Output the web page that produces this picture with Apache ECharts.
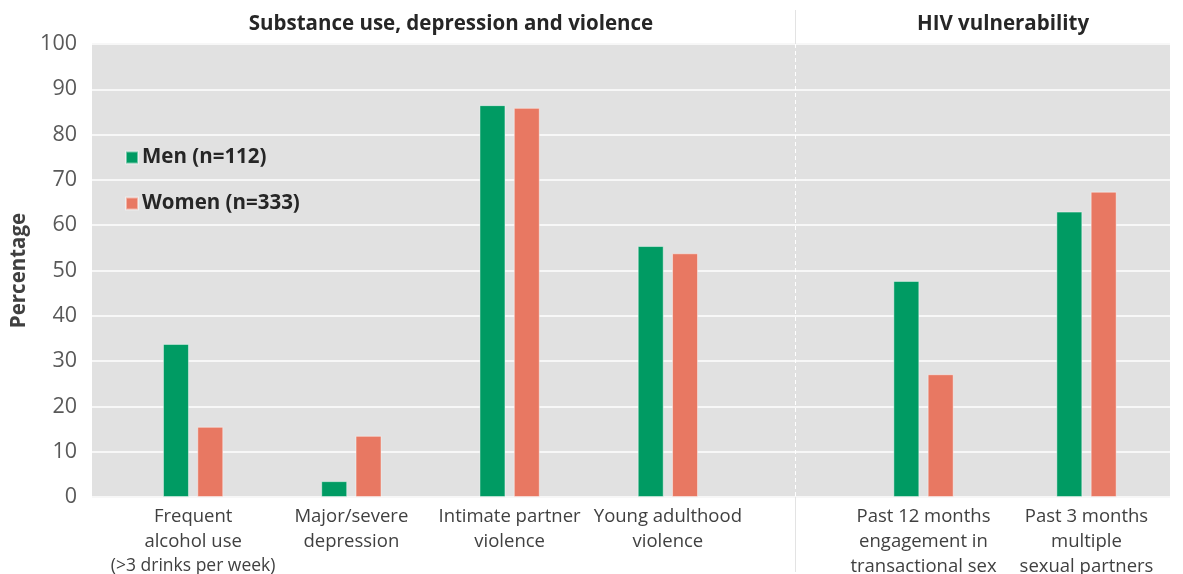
<!DOCTYPE html>
<html>
<head>
<meta charset="utf-8">
<script src="https://cdn.jsdelivr.net/npm/echarts@6/dist/echarts.min.js"></script>
<style>html,body{margin:0;padding:0;background:#fff}#c{width:1183px;height:574px}</style>
</head>
<body>
<div id="c"></div>
<script>
const leftCategories = ['Frequent\nalcohol use\n(>3 drinks per week)', 'Major/severe\ndepression', 'Intimate partner\nviolence', 'Young adulthood\nviolence'];
const rightCategories = ['Past 12 months\nengagement in\ntransactional sex', 'Past 3 months\nmultiple\nsexual partners'];
const menLeft = [33.8, 3.5, 86.5, 55.4];
const womenLeft = [15.5, 13.5, 85.9, 53.8];
const menRight = [47.7, 63.0];
const womenRight = [27.1, 67.4];
const groupTitles = ['Substance use, depression and violence', 'HIV vulnerability'];
const seriesNames = ['Men (n=112)', 'Women (n=333)'];
const yTicks = [0, 10, 20, 30, 40, 50, 60, 70, 80, 90, 100];

const FONT = '"Open Sans", "Noto Sans", sans-serif';
const GREEN = '#009b63';
const SALMON = '#e87862';
const TOP = 44, BOTTOM = 77;

const chart = echarts.init(document.getElementById('c'));

function labelFmt(v) {
  const lines = v.split('\n');
  return lines.map(l => l.startsWith('(') ? '{s|' + l + '}' : '{a|' + l + '}').join('\n');
}
const axisLabel = {
  interval: 0, margin: 7, color: '#404040', fontFamily: FONT,
  formatter: labelFmt,
  rich: {
    a: {fontSize: 18.5, lineHeight: 25, color: '#404040', fontFamily: FONT},
    s: {fontSize: 17.5, lineHeight: 25, color: '#404040', fontFamily: FONT}
  }
};
const hiddenY = (gi) => ({type: 'value', gridIndex: gi, min: 0, max: 100, interval: 10, show: false, splitLine: {show: false}});
const barStyle = (c) => ({color: c, borderColor: 'rgba(255,255,255,0.45)', borderWidth: 1});

chart.setOption({
  animation: false,
  textStyle: {fontFamily: FONT},
  grid: [
    {left: 92, right: 13, top: TOP, bottom: BOTTOM, show: true, backgroundColor: '#e1e1e1', borderWidth: 0, outerBoundsMode: 'none', containLabel: false},
    {left: 114, width: 633, top: TOP, bottom: BOTTOM, outerBoundsMode: 'none', containLabel: false},
    {left: 842, width: 326, top: TOP, bottom: BOTTOM, outerBoundsMode: 'none', containLabel: false}
  ],
  xAxis: [
    {type: 'category', gridIndex: 0, data: [''], show: false},
    {type: 'category', gridIndex: 1, data: leftCategories, axisLine: {show: false}, axisTick: {show: false}, axisLabel: axisLabel},
    {type: 'category', gridIndex: 2, data: rightCategories, axisLine: {show: false}, axisTick: {show: false}, axisLabel: axisLabel}
  ],
  yAxis: [
    {type: 'value', gridIndex: 0, min: yTicks[0], max: yTicks[yTicks.length - 1], interval: 10,
     name: 'Percentage', nameLocation: 'middle', nameRotate: 90, nameGap: 61,
     nameTextStyle: {fontSize: 20.5, fontWeight: 'bold', color: '#404040', fontFamily: FONT},
     axisLine: {show: false}, axisTick: {show: false},
     axisLabel: {fontSize: 21.5, color: '#595959', margin: 15, fontFamily: FONT},
     splitLine: {show: true, lineStyle: {color: '#f7f7f7', width: 2}}},
    hiddenY(1), hiddenY(2)
  ],
  legend: {
    orient: 'vertical', left: 120, top: 142, itemWidth: 12, itemHeight: 12, itemGap: 25,
    data: seriesNames, icon: 'rect',
    textStyle: {fontSize: 20.5, fontWeight: 'bold', color: '#262626', fontFamily: FONT, padding: [0, 0, 0, -1]}
  },
  series: [
    {name: seriesNames[0], type: 'bar', xAxisIndex: 1, yAxisIndex: 1, data: menLeft, barWidth: 26, barGap: '32%', itemStyle: barStyle(GREEN)},
    {name: seriesNames[1], type: 'bar', xAxisIndex: 1, yAxisIndex: 1, data: womenLeft, barWidth: 26, barGap: '32%', itemStyle: barStyle(SALMON)},
    {name: seriesNames[0], type: 'bar', xAxisIndex: 2, yAxisIndex: 2, data: menRight, barWidth: 26, barGap: '32%', itemStyle: barStyle(GREEN)},
    {name: seriesNames[1], type: 'bar', xAxisIndex: 2, yAxisIndex: 2, data: womenRight, barWidth: 26, barGap: '32%', itemStyle: barStyle(SALMON)}
  ],
  graphic: [
    {type: 'line', z: 1, shape: {x1: 795.5, y1: 10, x2: 795.5, y2: TOP}, style: {stroke: '#e3e3e3', lineWidth: 1}},
    {type: 'line', z: 1, shape: {x1: 795.5, y1: 574 - BOTTOM, x2: 795.5, y2: 572}, style: {stroke: '#e3e3e3', lineWidth: 1}},
    {type: 'line', z: 1, shape: {x1: 795.5, y1: TOP, x2: 795.5, y2: 574 - BOTTOM}, style: {stroke: '#ffffff', lineWidth: 1, lineDash: [4, 3]}},
    {type: 'text', x: 451, y: 24, style: {text: groupTitles[0], align: 'center', verticalAlign: 'middle', font: 'bold 20.5px ' + FONT, fill: '#262626'}},
    {type: 'text', x: 1003, y: 24, style: {text: groupTitles[1], align: 'center', verticalAlign: 'middle', font: 'bold 20.5px ' + FONT, fill: '#262626'}}
  ]
});
</script>
</body>
</html>
